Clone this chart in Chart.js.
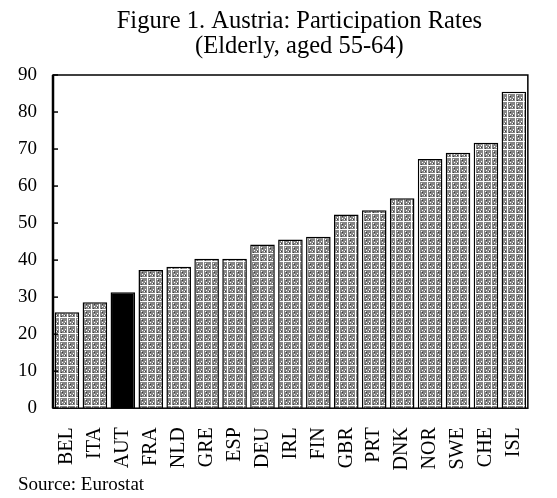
<!DOCTYPE html>
<html>
<head>
<meta charset="utf-8">
<script src="https://cdn.jsdelivr.net/npm/chart.js@4.4.1/dist/chart.umd.min.js"></script>
<style>
  html, body { margin: 0; padding: 0; background: #fff; }
  #wrap { width: 557px; height: 498px; position: relative; }
</style>
</head>
<body>
<div id="wrap"><canvas id="chart"></canvas></div>
<script>
// Data
const countries = ["BEL", "ITA", "AUT", "FRA", "NLD", "GRE", "ESP", "DEU", "IRL",
                   "FIN", "GBR", "PRT", "DNK", "NOR", "SWE", "CHE", "ISL"];
const rates = [25.9, 28.6, 31.3, 37.3, 38.2, 40.4, 40.4, 44.2, 45.6,
               46.3, 52.3, 53.5, 56.7, 67.3, 69.0, 71.7, 85.5];
const highlight = "AUT";
const yMin = 0;
const yMax = 90;
const yStep = 10;

const titleLines = ["Figure 1. Austria: Participation Rates", "(Elderly, aged 55-64)"];
const sourceNote = "Source: Eurostat";

// halftone-ish grey fill like the scanned original
function makeHatch() {
  const c = document.createElement("canvas");
  c.width = 8; c.height = 8;
  const g = c.getContext("2d");
  g.fillStyle = "#858585";
  g.fillRect(0, 0, 8, 8);
  g.fillStyle = "#ffffff";
  g.fillRect(3, 0, 1, 8);
  g.fillRect(0, 5, 8, 1);
  g.fillRect(1, 1, 1, 1);
  g.fillRect(6, 2, 1, 1);
  g.fillRect(5, 7, 1, 1);
  g.fillRect(0, 3, 1, 1);
  g.fillStyle = "#3a3a3a";
  g.fillRect(1, 3, 1, 1);
  g.fillRect(6, 0, 1, 1);
  g.fillRect(5, 4, 1, 1);
  return g.createPattern(c, "repeat");
}
const hatch = makeHatch();

const serif = "'Liberation Serif', 'Times New Roman', serif";

// box around plot + little inward ticks on the value axis
const framePlugin = {
  id: "frame",
  afterDatasetsDraw(chart) {
    const { ctx, chartArea: a, scales } = chart;
    ctx.save();
    ctx.strokeStyle = "#000";
    ctx.lineWidth = 1.5;
    ctx.strokeRect(a.left, a.top, a.right - a.left, a.bottom - a.top);
    ctx.lineWidth = 2.5;
    ctx.beginPath();
    ctx.moveTo(a.left, a.top);
    ctx.lineTo(a.left, a.bottom);
    ctx.stroke();
    ctx.lineWidth = 1.5;
    scales.y.ticks.forEach((t) => {
      const y = scales.y.getPixelForValue(t.value);
      ctx.beginPath();
      ctx.moveTo(a.left, y);
      ctx.lineTo(a.left + 5, y);
      ctx.stroke();
    });
    ctx.restore();
  }
};

// two-line heading, sitting a little right of the plot centre as in the scan
const headingPlugin = {
  id: "heading",
  afterDraw(chart) {
    const { ctx, chartArea: a } = chart;
    const cx = (a.left + a.right) / 2 + 9;
    ctx.save();
    ctx.fillStyle = "#000";
    ctx.font = "24.5px " + serif;
    ctx.textAlign = "center";
    ctx.textBaseline = "alphabetic";
    ctx.fillText(titleLines[0], cx, a.top - 47);
    ctx.fillText(titleLines[1], cx, a.top - 22);
    ctx.restore();
  }
};

new Chart(document.getElementById("chart"), {
  type: "bar",
  data: {
    labels: countries,
    datasets: [{
      data: rates,
      backgroundColor: countries.map((c) => c === highlight ? "#000" : hatch),
      borderColor: "#000",
      borderWidth: 1.5,
      borderSkipped: "bottom",
      categoryPercentage: 1,
      barPercentage: 0.88
    }]
  },
  options: {
    responsive: true,
    maintainAspectRatio: false,
    animation: false,
    layout: { padding: { left: 18, right: 4, top: 75, bottom: 2 } },
    plugins: {
      legend: { display: false },
      tooltip: { enabled: false },
      title: { display: false },
      subtitle: {
        display: true,
        text: sourceNote,
        position: "bottom",
        align: "start",
        color: "#000",
        font: { family: serif, size: 19, weight: "normal", lineHeight: 1.2 },
        padding: { top: 3, bottom: 0 }
      }
    },
    scales: {
      x: {
        grid: { display: false, drawTicks: false },
        border: { display: false },
        ticks: {
          color: "#000",
          autoSkip: false,
          minRotation: 90,
          maxRotation: 90,
          padding: 19,
          font: { family: serif, size: 20 }
        },
        afterFit(axis) { axis.height = 62; }
      },
      y: {
        min: yMin,
        max: yMax,
        grid: { display: false, drawTicks: false },
        border: { display: false },
        ticks: {
          stepSize: yStep,
          color: "#000",
          padding: 16,
          font: { family: serif, size: 19 }
        },
        afterFit(axis) { axis.width = 35; }
      }
    }
  },
  plugins: [framePlugin, headingPlugin]
});
</script>
</body>
</html>
